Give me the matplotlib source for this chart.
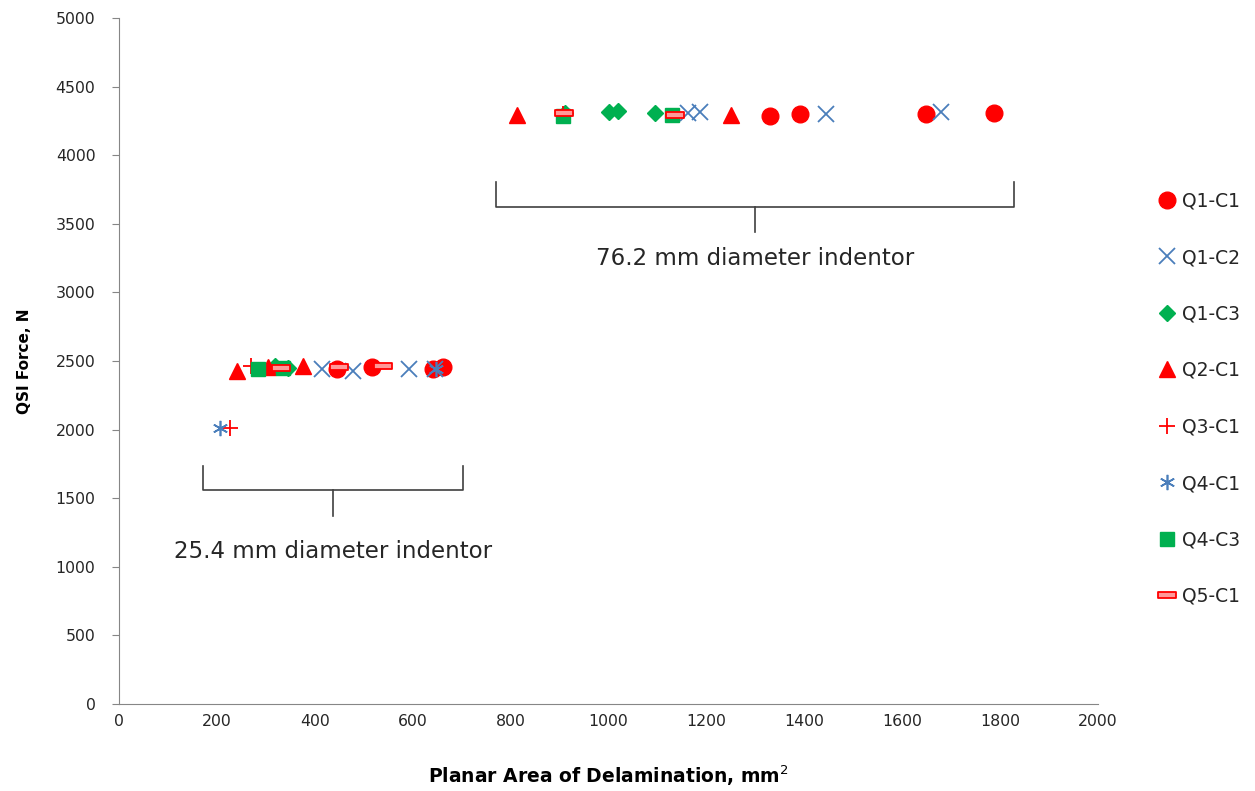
import matplotlib
matplotlib.use("Agg")
import matplotlib.pyplot as plt
import numpy as np
from matplotlib.path import Path

plt.rcParams['font.family'] = ['DejaVu Sans']

# ---- data ----
q1c1_x = [445, 517, 641, 662, 1330, 1391, 1648, 1788]
q1c1_y = [2440, 2455, 2445, 2455, 4285, 4300, 4300, 4310]
q1c2_x = [414, 478, 592, 645, 1163, 1187, 1445, 1680]
q1c2_y = [2445, 2430, 2445, 2445, 4305, 4315, 4300, 4315]
q1c3_x = [318, 345, 912, 1000, 1020, 1095]
q1c3_y = [2460, 2450, 4305, 4315, 4320, 4310]
q2c1_x = [241, 304, 376, 813, 1250]
q2c1_y = [2430, 2455, 2460, 4295, 4295]
q3c1_x = [227, 270, 907]
q3c1_y = [2010, 2460, 4300]
q4c1_x = [206, 648]
q4c1_y = [2010, 2445]
q4c3_x = [283, 335, 907, 1130]
q4c3_y = [2440, 2450, 4285, 4295]
q5c1_x = [330, 450, 540, 910, 1135]
q5c1_y = [2450, 2458, 2460, 4310, 4290]

x_ticks = [0, 200, 400, 600, 800, 1000, 1200, 1400, 1600, 1800, 2000]
y_ticks = [0, 500, 1000, 1500, 2000, 2500, 3000, 3500, 4000, 4500, 5000]

RED = '#FF0000'
BLUE = '#4A7EBB'
GREEN = '#00B050'

fig = plt.figure(figsize=(12.55, 7.91), dpi=100)
ax = fig.add_axes([119/1255, 1 - 704/791, (1098-119)/1255, (704-18)/791])

dash = Path([(-1, -0.28), (1, -0.28), (1, 0.28), (-1, 0.28), (-1, -0.28)],
            [Path.MOVETO, Path.LINETO, Path.LINETO, Path.LINETO, Path.CLOSEPOLY])

ax.plot(q1c1_x, q1c1_y, ls='none', marker='o', ms=12, color=RED, label='Q1-C1')
ax.plot(q1c2_x, q1c2_y, ls='none', marker='x', ms=11, mew=1.3, color=BLUE, label='Q1-C2')
ax.plot(q1c3_x, q1c3_y, ls='none', marker='D', ms=8.5, color=GREEN, label='Q1-C3')
ax.plot(q2c1_x, q2c1_y, ls='none', marker='^', ms=12, color=RED, label='Q2-C1')
ax.plot(q3c1_x, q3c1_y, ls='none', marker='+', ms=11, mew=1.3, color=RED, label='Q3-C1')
ax.plot(q4c1_x, q4c1_y, ls='none', marker=(6, 2, 0), ms=11, mew=1.2, color=BLUE, label='Q4-C1')
ax.plot(q4c3_x, q4c3_y, ls='none', marker='s', ms=10.5, color=GREEN, label='Q4-C3')
ax.plot(q5c1_x, q5c1_y, ls='none', marker=dash, ms=13, mew=1.3, mec=RED, mfc='#FF9999', label='Q5-C1')

ax.set_xlim(0, 2000)
ax.set_ylim(0, 5000)
ax.set_xticks(x_ticks)
ax.set_yticks(y_ticks)
ax.tick_params(axis='both', labelsize=11.3, color='#868686', length=5, direction='out',
               labelcolor='#262626')
ax.tick_params(axis='x', length=0, pad=7)
ax.tick_params(axis='y', pad=12)
for s in ['top', 'right']:
    ax.spines[s].set_visible(False)
for s in ['left', 'bottom']:
    ax.spines[s].set_color('#868686')

ax.set_xlabel('Planar Area of Delamination, mm$^2$', fontsize=13.5, fontweight='bold', labelpad=25)
ax.set_ylabel('QSI Force, N', fontsize=11, fontweight='bold', labelpad=17)

# brackets
bc = '#404040'
ax.plot([770, 770, 1828, 1828], [3805, 3622, 3622, 3805], color=bc, lw=1.2)
ax.plot([1299, 1299], [3622, 3440], color=bc, lw=1.2)
ax.text(1299, 3250, '76.2 mm diameter indentor', ha='center', va='center', fontsize=16.5,
        color='#262626')
ax.plot([172, 172, 703, 703], [1735, 1560, 1560, 1735], color=bc, lw=1.2)
ax.plot([437, 437], [1560, 1370], color=bc, lw=1.2)
ax.text(437, 1115, '25.4 mm diameter indentor', ha='center', va='center', fontsize=16.5,
        color='#262626')

leg = fig.legend(loc='upper left', bbox_to_anchor=(1146/1255, 1 - 184/791), frameon=False,
                 fontsize=13.5, labelspacing=2.0, handletextpad=0.1, handlelength=1.4,
                 borderaxespad=0)
for t in leg.get_texts():
    t.set_color('#262626')

fig.savefig('out.png', dpi=100)
